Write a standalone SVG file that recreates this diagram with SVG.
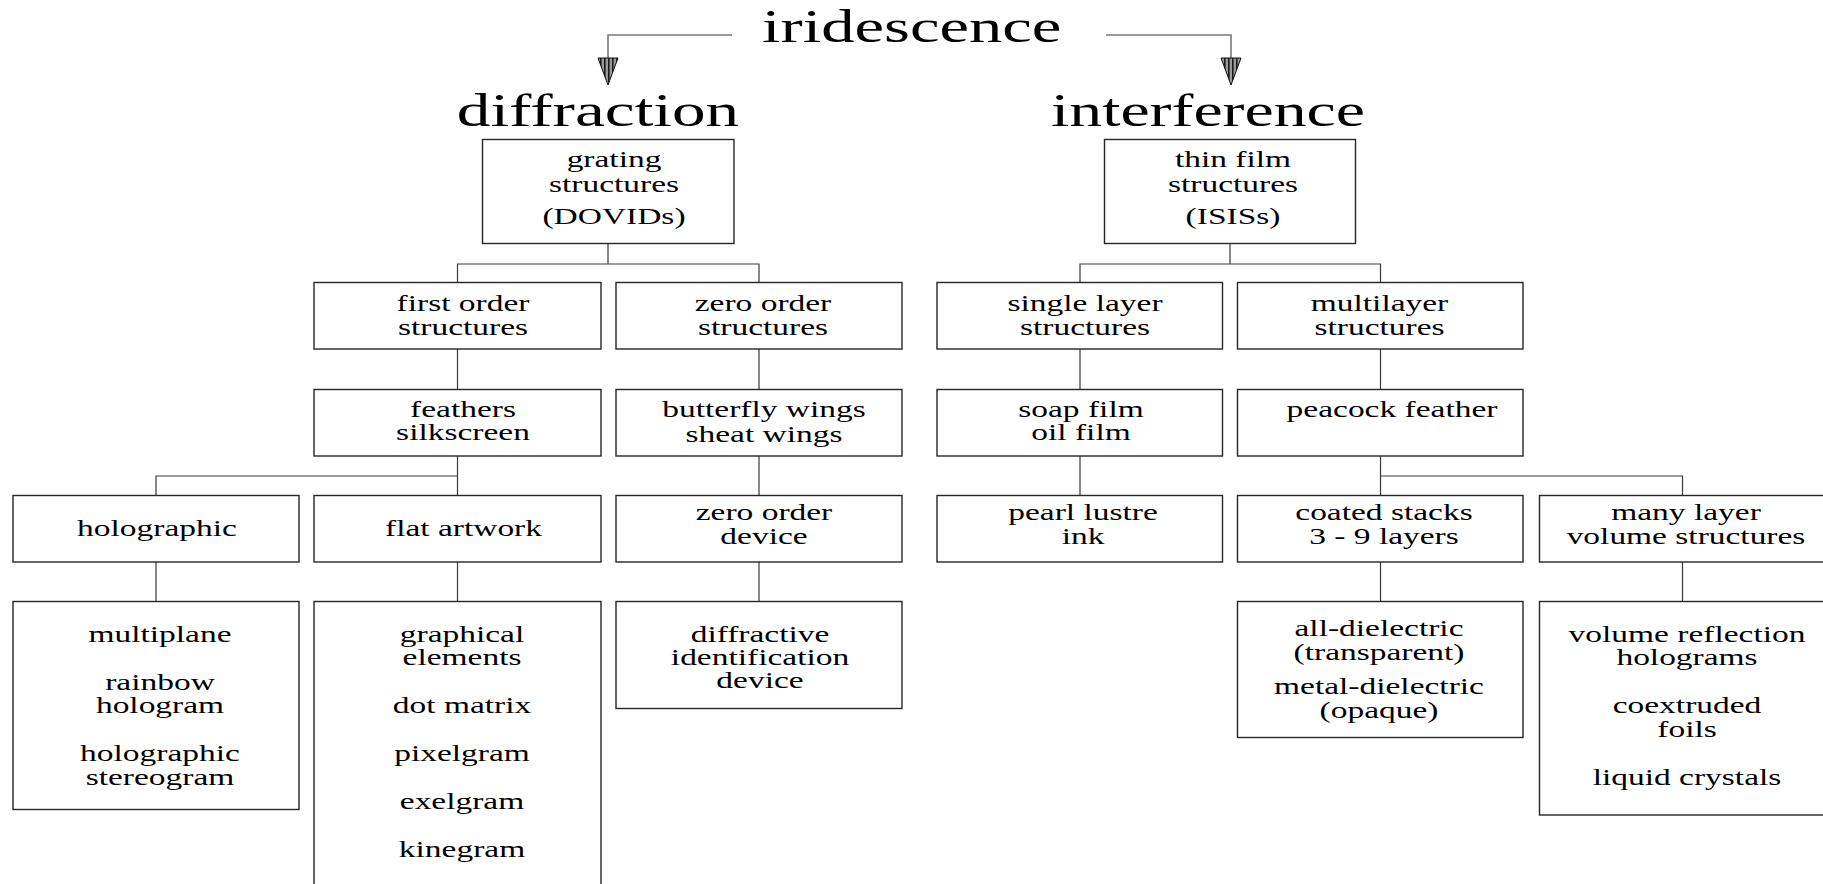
<svg xmlns="http://www.w3.org/2000/svg" width="1823" height="884" viewBox="0 0 1823 884">
<style>
  .box { fill: #ffffff; stroke: #262626; stroke-width: 1.4; }
  .con { fill: none; stroke: #3a3a3a; stroke-width: 1.2; }
  .arr { fill: none; stroke: #7a7a7a; stroke-width: 1.6; }
  .head { fill: url(#stripes); stroke: #111; stroke-width: 1; }
  text { font-family: "Liberation Serif", "Times New Roman", serif; fill: #000; text-anchor: middle; }
  .t { font-size: 24px; }
  .h { font-size: 47px; }
</style>
<defs>
  <pattern id="stripes" patternUnits="userSpaceOnUse" width="4" height="4">
    <rect x="0" y="0" width="4" height="4" fill="#9a9a9a"/>
    <rect x="0" y="0" width="1.6" height="4" fill="#1a1a1a"/>
  </pattern>
</defs>
<rect x="0" y="0" width="1823" height="884" fill="#ffffff"/>

<g id="connectors">
  <path class="arr" d="M732,35 H608 V58"/>
  <path class="arr" d="M1106,35 H1231 V58"/>
  <polygon class="head" points="598,58 618,58 608,85"/>
  <polygon class="head" points="1221,58 1241,58 1231,85"/>
  <path class="con" d="M608,243.5 V264 M457.5,282.5 V264 H759 V282.5"/>
  <path class="con" d="M1230,243.5 V264 M1080,282.5 V264 H1380.5 V282.5"/>
  <path class="con" d="M457.5,349 V389.5 M759,349 V389.5 M1080,349 V389.5 M1380.5,349 V389.5"/>
  <path class="con" d="M457.5,456 V495.5 M156,495.5 V476 H457.5"/>
  <path class="con" d="M759,456 V495.5 M1080,456 V495.5"/>
  <path class="con" d="M1380.5,456 V495.5 M1682.5,495.5 V476 H1380.5"/>
  <path class="con" d="M156,562 V601.5 M457.5,562 V601.5 M759,562 V601.5 M1380.5,562 V601.5 M1682.5,562 V601.5"/>
</g>

<g id="n-iridescence"><g transform="translate(911.7 0) scale(1.417 1)"><text class="h" y="41.5">iridescence</text></g></g>
<g id="n-diffraction"><g transform="translate(598 0) scale(1.43 1)"><text class="h" y="126.5">diffraction</text></g></g>
<g id="n-interference"><g transform="translate(1208 0) scale(1.4 1)"><text class="h" y="126.5">interference</text></g></g>

<g id="n-grating">
  <rect class="box" x="482.5" y="139.5" width="251.5" height="104"/>
  <g transform="translate(614 0) scale(1.394 1)"><text class="t" y="167">grating</text><text class="t" y="192">structures</text><text class="t" y="224">(DOVIDs)</text></g>
</g>
<g id="n-thinfilm">
  <rect class="box" x="1104.5" y="139.5" width="251" height="104"/>
  <g transform="translate(1233 0) scale(1.394 1)"><text class="t" y="167">thin film</text><text class="t" y="192">structures</text><text class="t" y="224">(ISISs)</text></g>
</g>

<g id="n-firstorder">
  <rect class="box" x="314" y="282.5" width="287" height="66.5"/>
  <g transform="translate(463 0) scale(1.394 1)"><text class="t" y="311">first order</text><text class="t" y="335">structures</text></g>
</g>
<g id="n-zeroorder">
  <rect class="box" x="616" y="282.5" width="286" height="66.5"/>
  <g transform="translate(763 0) scale(1.394 1)"><text class="t" y="311">zero order</text><text class="t" y="335">structures</text></g>
</g>
<g id="n-singlelayer">
  <rect class="box" x="937" y="282.5" width="285.5" height="66.5"/>
  <g transform="translate(1085 0) scale(1.394 1)"><text class="t" y="311">single layer</text><text class="t" y="335">structures</text></g>
</g>
<g id="n-multilayer">
  <rect class="box" x="1237.5" y="282.5" width="285.5" height="66.5"/>
  <g transform="translate(1379.5 0) scale(1.394 1)"><text class="t" y="311">multilayer</text><text class="t" y="335">structures</text></g>
</g>

<g id="n-feathers">
  <rect class="box" x="314" y="389.5" width="287" height="66.5"/>
  <g transform="translate(463 0) scale(1.394 1)"><text class="t" y="417">feathers</text><text class="t" y="440">silkscreen</text></g>
</g>
<g id="n-butterfly">
  <rect class="box" x="616" y="389.5" width="286" height="66.5"/>
  <g transform="translate(764 0) scale(1.394 1)"><text class="t" y="417">butterfly wings</text><text class="t" y="442">sheat wings</text></g>
</g>
<g id="n-soapfilm">
  <rect class="box" x="937" y="389.5" width="285.5" height="66.5"/>
  <g transform="translate(1081 0) scale(1.394 1)"><text class="t" y="417">soap film</text><text class="t" y="440">oil film</text></g>
</g>
<g id="n-peacock">
  <rect class="box" x="1237.5" y="389.5" width="285.5" height="66.5"/>
  <g transform="translate(1392 0) scale(1.394 1)"><text class="t" y="417">peacock feather</text></g>
</g>

<g id="n-holographic">
  <rect class="box" x="13" y="495.5" width="286" height="66.5"/>
  <g transform="translate(157 0) scale(1.394 1)"><text class="t" y="536">holographic</text></g>
</g>
<g id="n-flatartwork">
  <rect class="box" x="314" y="495.5" width="287" height="66.5"/>
  <g transform="translate(463.5 0) scale(1.394 1)"><text class="t" y="536">flat artwork</text></g>
</g>
<g id="n-zeroorderdevice">
  <rect class="box" x="616" y="495.5" width="286" height="66.5"/>
  <g transform="translate(764 0) scale(1.394 1)"><text class="t" y="520">zero order</text><text class="t" y="544">device</text></g>
</g>
<g id="n-pearllustre">
  <rect class="box" x="937" y="495.5" width="285.5" height="66.5"/>
  <g transform="translate(1083 0) scale(1.394 1)"><text class="t" y="520">pearl lustre</text><text class="t" y="544">ink</text></g>
</g>
<g id="n-coated">
  <rect class="box" x="1237.5" y="495.5" width="285.5" height="66.5"/>
  <g transform="translate(1384 0) scale(1.394 1)"><text class="t" y="520">coated stacks</text><text class="t" y="544">3 - 9 layers</text></g>
</g>
<g id="n-manylayer">
  <rect class="box" x="1539.5" y="495.5" width="286" height="66.5"/>
  <g transform="translate(1686 0) scale(1.394 1)"><text class="t" y="520">many layer</text><text class="t" y="544">volume structures</text></g>
</g>

<g id="n-holo-list">
  <rect class="box" x="13" y="601.5" width="286" height="208"/>
  <g transform="translate(160 0) scale(1.394 1)"><text class="t" y="642">multiplane</text><text class="t" y="690">rainbow</text><text class="t" y="713">hologram</text><text class="t" y="761">holographic</text><text class="t" y="785">stereogram</text></g>
</g>
<g id="n-flat-list">
  <rect class="box" x="314" y="601.5" width="287" height="300"/>
  <g transform="translate(462 0) scale(1.394 1)"><text class="t" y="642">graphical</text><text class="t" y="665">elements</text><text class="t" y="713">dot matrix</text><text class="t" y="761">pixelgram</text><text class="t" y="809">exelgram</text><text class="t" y="857">kinegram</text></g>
</g>
<g id="n-diffractive">
  <rect class="box" x="616" y="601.5" width="286" height="107"/>
  <g transform="translate(760 0) scale(1.394 1)"><text class="t" y="642">diffractive</text><text class="t" y="665">identification</text><text class="t" y="688">device</text></g>
</g>
<g id="n-dielectric">
  <rect class="box" x="1237.5" y="601.5" width="285.5" height="136"/>
  <g transform="translate(1379 0) scale(1.394 1)"><text class="t" y="636">all-dielectric</text><text class="t" y="660">(transparent)</text><text class="t" y="694">metal-dielectric</text><text class="t" y="718">(opaque)</text></g>
</g>
<g id="n-volume-list">
  <rect class="box" x="1539.5" y="601.5" width="286" height="213.5"/>
  <g transform="translate(1687 0) scale(1.394 1)"><text class="t" y="642">volume reflection</text><text class="t" y="665">holograms</text><text class="t" y="713">coextruded</text><text class="t" y="737">foils</text><text class="t" y="785">liquid crystals</text></g>
</g>
</svg>
